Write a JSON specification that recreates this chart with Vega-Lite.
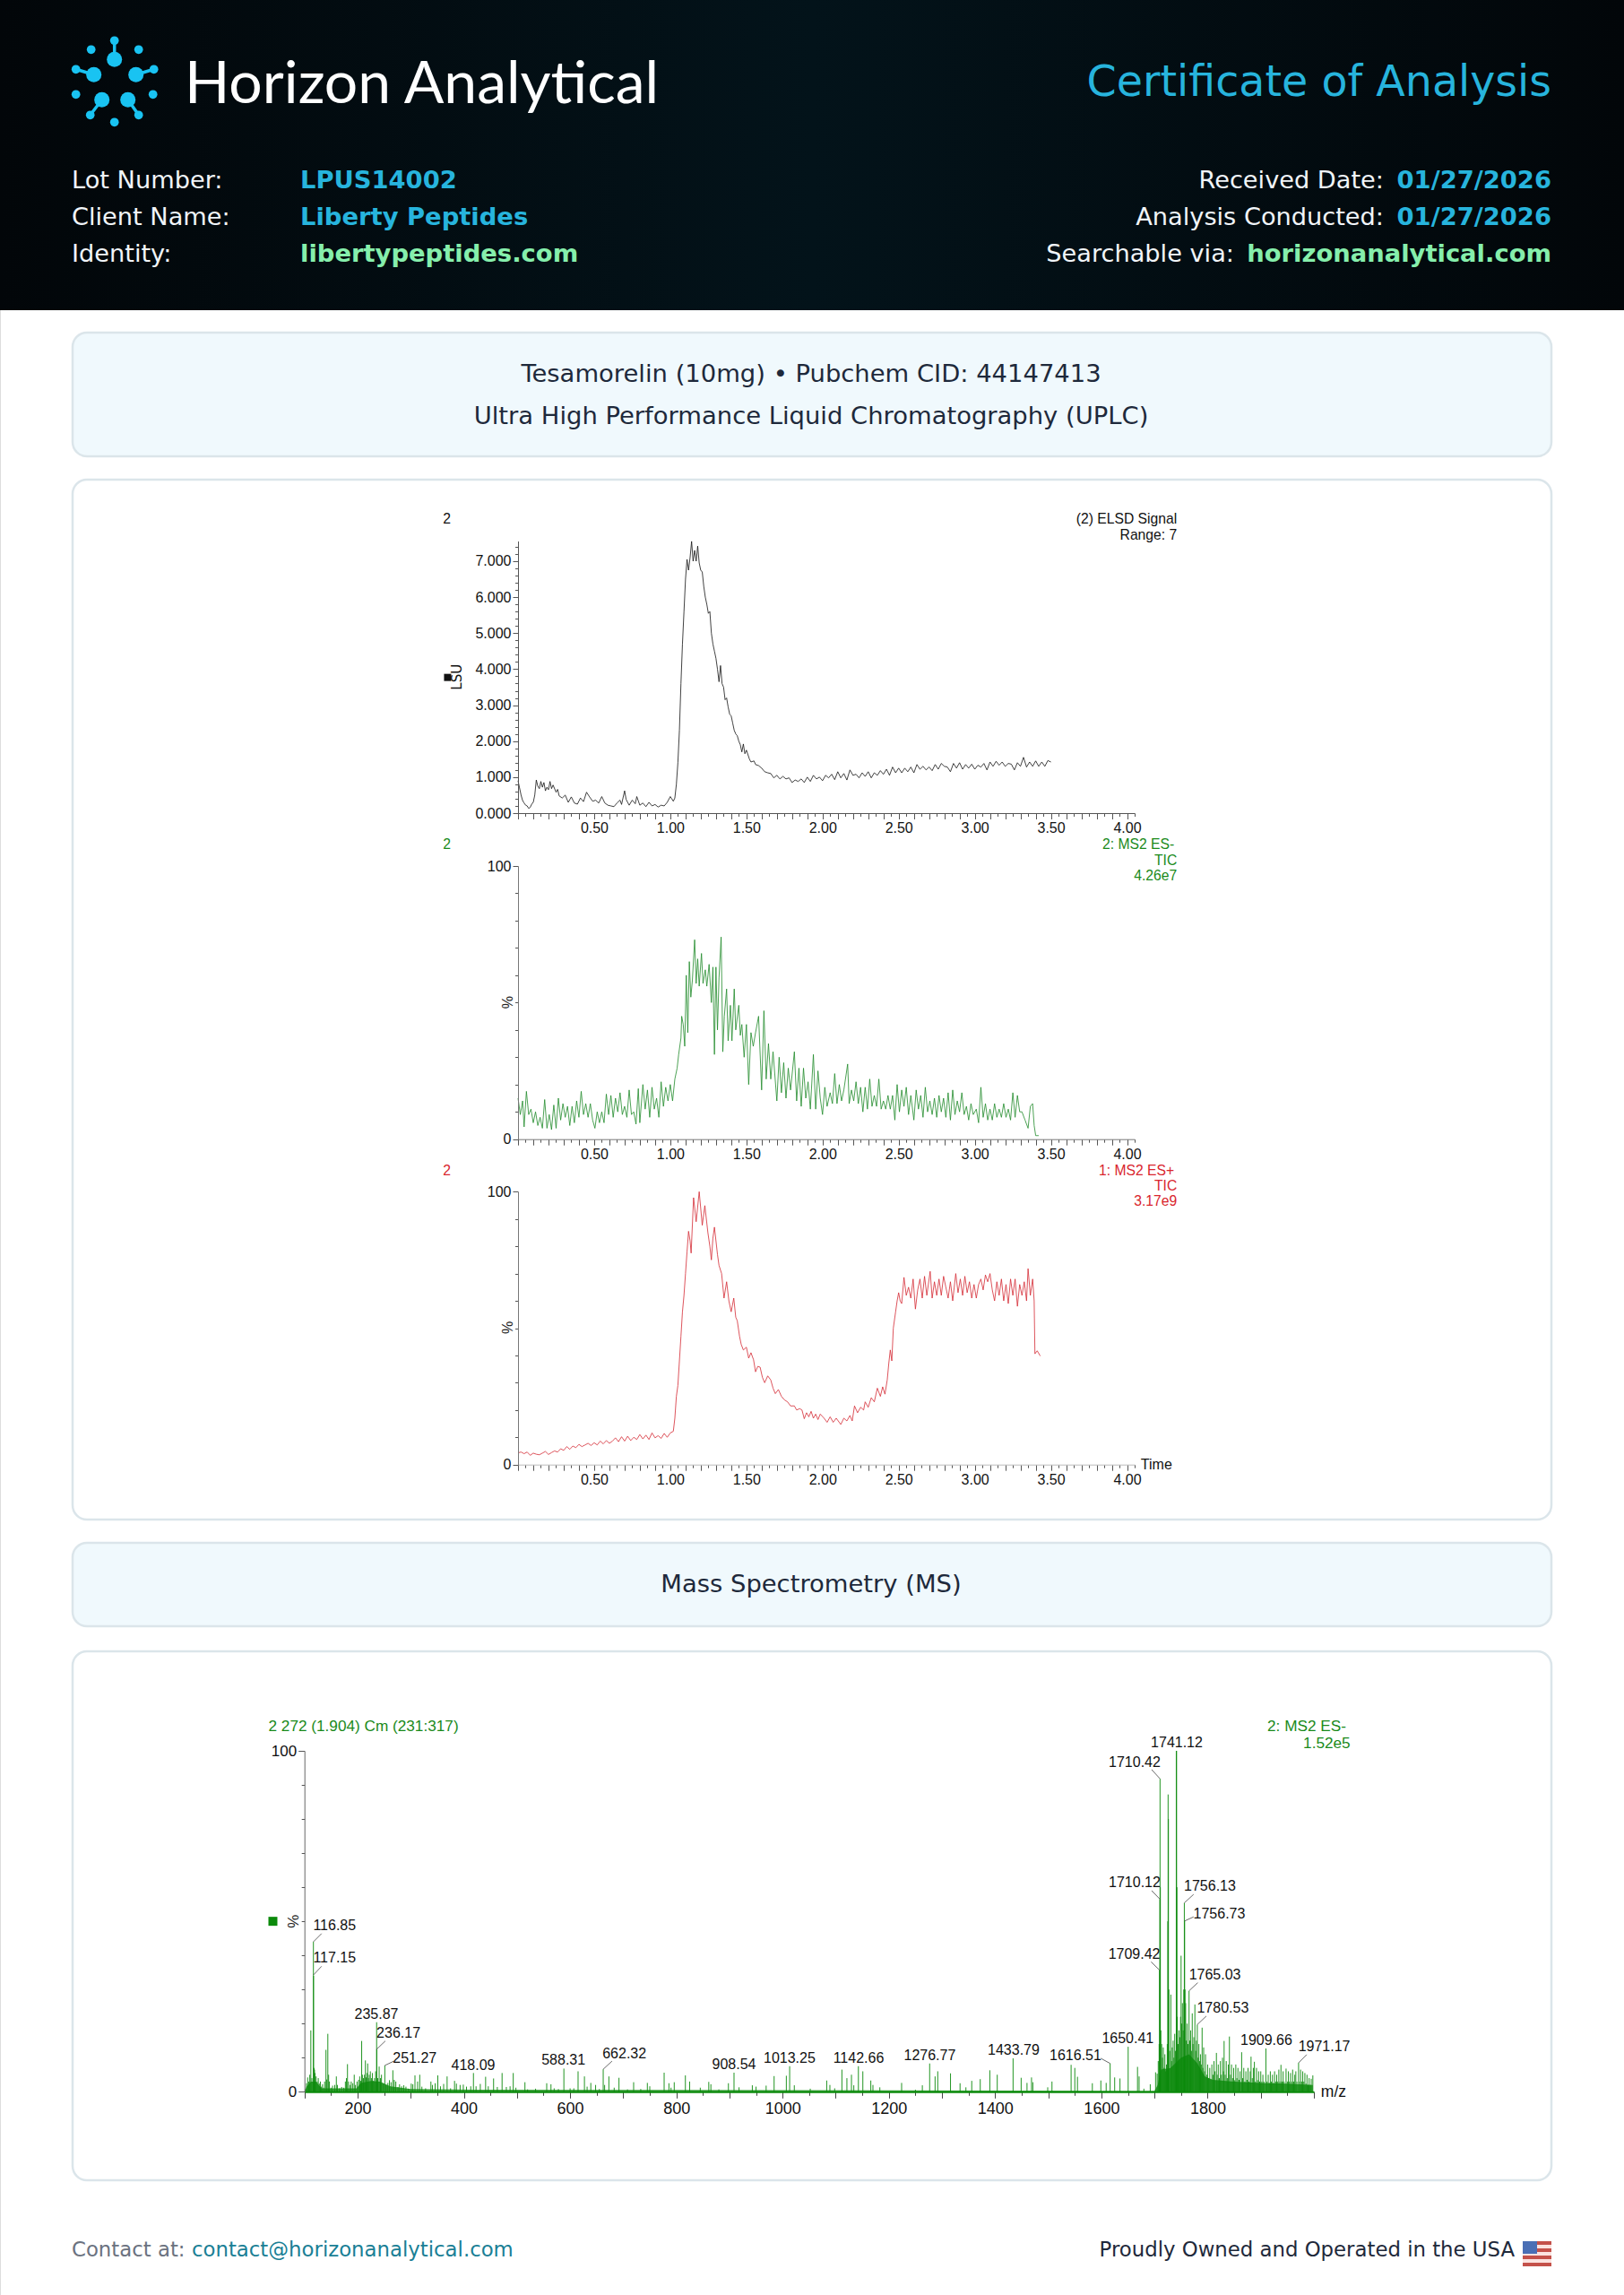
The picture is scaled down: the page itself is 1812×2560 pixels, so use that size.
{"$schema":"https://vega.github.io/schema/vega-lite/v6.json","width":1812,"height":2560,"padding":0,"autosize":{"type":"none"},"background":"#ffffff",
"datasets":{
"elsd":[{"t":0,"v":0.9},{"t":0.01,"v":0.7},{"t":0.02,"v":0.5},{"t":0.03,"v":0.35},{"t":0.04,"v":0.28},{"t":0.05,"v":0.22},{"t":0.06,"v":0.2},{"t":0.07,"v":0.13},{"t":0.08,"v":0.16},{"t":0.09,"v":0.25},{"t":0.1,"v":0.3},{"t":0.11,"v":0.5},{"t":0.12,"v":0.92},{"t":0.13,"v":0.75},{"t":0.14,"v":0.68},{"t":0.15,"v":0.88},{"t":0.16,"v":0.72},{"t":0.17,"v":0.85},{"t":0.18,"v":0.62},{"t":0.19,"v":0.72},{"t":0.2,"v":0.65},{"t":0.21,"v":0.88},{"t":0.22,"v":0.68},{"t":0.23,"v":0.78},{"t":0.25,"v":0.58},{"t":0.26,"v":0.66},{"t":0.27,"v":0.48},{"t":0.29,"v":0.42},{"t":0.31,"v":0.5},{"t":0.33,"v":0.3},{"t":0.35,"v":0.45},{"t":0.37,"v":0.28},{"t":0.39,"v":0.25},{"t":0.41,"v":0.42},{"t":0.43,"v":0.32},{"t":0.45,"v":0.58},{"t":0.47,"v":0.45},{"t":0.49,"v":0.33},{"t":0.51,"v":0.36},{"t":0.53,"v":0.28},{"t":0.55,"v":0.46},{"t":0.57,"v":0.28},{"t":0.59,"v":0.22},{"t":0.61,"v":0.2},{"t":0.63,"v":0.18},{"t":0.65,"v":0.28},{"t":0.67,"v":0.36},{"t":0.68,"v":0.24},{"t":0.7,"v":0.62},{"t":0.71,"v":0.38},{"t":0.73,"v":0.22},{"t":0.75,"v":0.36},{"t":0.77,"v":0.26},{"t":0.78,"v":0.46},{"t":0.8,"v":0.22},{"t":0.82,"v":0.28},{"t":0.84,"v":0.18},{"t":0.86,"v":0.3},{"t":0.88,"v":0.2},{"t":0.9,"v":0.24},{"t":0.92,"v":0.17},{"t":0.94,"v":0.22},{"t":0.96,"v":0.2},{"t":0.98,"v":0.3},{"t":1,"v":0.46},{"t":1.02,"v":0.33},{"t":1.03,"v":0.42},{"t":1.04,"v":0.8},{"t":1.05,"v":1.4},{"t":1.06,"v":2.3},{"t":1.07,"v":3.6},{"t":1.08,"v":4.7},{"t":1.09,"v":5.6},{"t":1.1,"v":6.5},{"t":1.11,"v":7.05},{"t":1.12,"v":6.75},{"t":1.13,"v":7.1},{"t":1.14,"v":7.55},{"t":1.15,"v":7.0},{"t":1.16,"v":7.3},{"t":1.17,"v":7.0},{"t":1.18,"v":7.42},{"t":1.19,"v":6.95},{"t":1.2,"v":6.75},{"t":1.21,"v":6.7},{"t":1.22,"v":6.3},{"t":1.23,"v":6.0},{"t":1.24,"v":5.8},{"t":1.25,"v":5.55},{"t":1.26,"v":5.6},{"t":1.27,"v":5.0},{"t":1.28,"v":4.7},{"t":1.29,"v":4.5},{"t":1.3,"v":4.3},{"t":1.31,"v":4.0},{"t":1.32,"v":3.65},{"t":1.33,"v":4.1},{"t":1.34,"v":3.6},{"t":1.35,"v":3.5},{"t":1.36,"v":3.15},{"t":1.37,"v":3.2},{"t":1.38,"v":2.95},{"t":1.39,"v":2.75},{"t":1.4,"v":2.7},{"t":1.41,"v":2.5},{"t":1.42,"v":2.3},{"t":1.43,"v":2.2},{"t":1.44,"v":2.15},{"t":1.45,"v":2.0},{"t":1.46,"v":1.9},{"t":1.47,"v":1.7},{"t":1.48,"v":1.92},{"t":1.49,"v":1.65},{"t":1.5,"v":1.75},{"t":1.52,"v":1.5},{"t":1.53,"v":1.42},{"t":1.55,"v":1.45},{"t":1.56,"v":1.35},{"t":1.58,"v":1.32},{"t":1.6,"v":1.25},{"t":1.62,"v":1.15},{"t":1.64,"v":1.12},{"t":1.66,"v":1.1},{"t":1.68,"v":0.98},{"t":1.7,"v":1.05},{"t":1.72,"v":0.95},{"t":1.74,"v":1.02},{"t":1.76,"v":0.95},{"t":1.78,"v":0.98},{"t":1.8,"v":0.85},{"t":1.82,"v":0.92},{"t":1.84,"v":0.88},{"t":1.86,"v":0.95},{"t":1.88,"v":0.85},{"t":1.9,"v":1.0},{"t":1.92,"v":0.88},{"t":1.94,"v":1.05},{"t":1.96,"v":0.95},{"t":1.98,"v":1.0},{"t":2,"v":0.9},{"t":2.02,"v":1.05},{"t":2.04,"v":0.98},{"t":2.06,"v":1.08},{"t":2.08,"v":0.93},{"t":2.1,"v":1.15},{"t":2.12,"v":0.98},{"t":2.14,"v":1.1},{"t":2.16,"v":0.92},{"t":2.18,"v":1.2},{"t":2.2,"v":1.05},{"t":2.22,"v":1.08},{"t":2.24,"v":0.98},{"t":2.26,"v":1.12},{"t":2.28,"v":1.02},{"t":2.3,"v":1.15},{"t":2.32,"v":0.98},{"t":2.34,"v":1.12},{"t":2.36,"v":1.05},{"t":2.38,"v":1.18},{"t":2.4,"v":1.08},{"t":2.42,"v":1.22},{"t":2.44,"v":1.05},{"t":2.46,"v":1.28},{"t":2.48,"v":1.12},{"t":2.5,"v":1.25},{"t":2.52,"v":1.12},{"t":2.54,"v":1.25},{"t":2.56,"v":1.15},{"t":2.58,"v":1.28},{"t":2.6,"v":1.12},{"t":2.62,"v":1.35},{"t":2.64,"v":1.22},{"t":2.66,"v":1.3},{"t":2.68,"v":1.2},{"t":2.7,"v":1.28},{"t":2.72,"v":1.18},{"t":2.74,"v":1.35},{"t":2.76,"v":1.22},{"t":2.78,"v":1.38},{"t":2.8,"v":1.3},{"t":2.82,"v":1.28},{"t":2.84,"v":1.15},{"t":2.86,"v":1.38},{"t":2.88,"v":1.25},{"t":2.9,"v":1.4},{"t":2.92,"v":1.22},{"t":2.94,"v":1.35},{"t":2.96,"v":1.25},{"t":2.98,"v":1.36},{"t":3,"v":1.22},{"t":3.02,"v":1.33},{"t":3.04,"v":1.28},{"t":3.06,"v":1.38},{"t":3.08,"v":1.2},{"t":3.1,"v":1.42},{"t":3.12,"v":1.3},{"t":3.14,"v":1.44},{"t":3.16,"v":1.33},{"t":3.18,"v":1.42},{"t":3.2,"v":1.3},{"t":3.22,"v":1.38},{"t":3.24,"v":1.36},{"t":3.26,"v":1.2},{"t":3.28,"v":1.4},{"t":3.3,"v":1.3},{"t":3.32,"v":1.55},{"t":3.34,"v":1.28},{"t":3.36,"v":1.42},{"t":3.38,"v":1.3},{"t":3.4,"v":1.45},{"t":3.42,"v":1.3},{"t":3.44,"v":1.42},{"t":3.46,"v":1.3},{"t":3.48,"v":1.46},{"t":3.5,"v":1.42}],
"neg":[{"t":0,"v":15},{"t":0.015,"v":9},{"t":0.03,"v":14},{"t":0.04,"v":4.5},{"t":0.055,"v":17.5},{"t":0.07,"v":9},{"t":0.085,"v":11},{"t":0.1,"v":6},{"t":0.115,"v":10},{"t":0.13,"v":5},{"t":0.145,"v":8},{"t":0.16,"v":4},{"t":0.175,"v":14.5},{"t":0.19,"v":4},{"t":0.205,"v":9},{"t":0.22,"v":3.5},{"t":0.235,"v":12.5},{"t":0.25,"v":4},{"t":0.265,"v":15},{"t":0.28,"v":7},{"t":0.295,"v":13},{"t":0.31,"v":8},{"t":0.325,"v":12},{"t":0.34,"v":5},{"t":0.355,"v":12},{"t":0.37,"v":6},{"t":0.385,"v":14},{"t":0.4,"v":8},{"t":0.415,"v":17.5},{"t":0.43,"v":9},{"t":0.445,"v":13},{"t":0.46,"v":8},{"t":0.475,"v":13},{"t":0.49,"v":7},{"t":0.505,"v":4},{"t":0.52,"v":10},{"t":0.535,"v":6},{"t":0.55,"v":10},{"t":0.565,"v":6},{"t":0.58,"v":16.5},{"t":0.595,"v":9},{"t":0.61,"v":16},{"t":0.625,"v":8},{"t":0.64,"v":15},{"t":0.655,"v":10},{"t":0.67,"v":17},{"t":0.685,"v":9},{"t":0.7,"v":12},{"t":0.715,"v":8},{"t":0.73,"v":18},{"t":0.745,"v":9},{"t":0.76,"v":10},{"t":0.775,"v":5.5},{"t":0.79,"v":18.5},{"t":0.8,"v":6},{"t":0.82,"v":20},{"t":0.835,"v":11},{"t":0.85,"v":18},{"t":0.865,"v":8},{"t":0.88,"v":19},{"t":0.895,"v":11},{"t":0.91,"v":15},{"t":0.925,"v":8},{"t":0.94,"v":21},{"t":0.955,"v":12},{"t":0.97,"v":19},{"t":0.985,"v":14},{"t":1,"v":20},{"t":1.015,"v":14},{"t":1.03,"v":22},{"t":1.045,"v":26},{"t":1.055,"v":31},{"t":1.07,"v":37},{"t":1.075,"v":45},{"t":1.085,"v":42},{"t":1.095,"v":34},{"t":1.105,"v":60},{"t":1.115,"v":39},{"t":1.125,"v":65},{"t":1.135,"v":52},{"t":1.145,"v":58},{"t":1.16,"v":73},{"t":1.17,"v":57},{"t":1.18,"v":66},{"t":1.19,"v":56},{"t":1.205,"v":68},{"t":1.215,"v":57},{"t":1.23,"v":62},{"t":1.24,"v":56},{"t":1.255,"v":64},{"t":1.27,"v":50},{"t":1.28,"v":63},{"t":1.29,"v":31},{"t":1.3,"v":63},{"t":1.31,"v":40},{"t":1.32,"v":59},{"t":1.334,"v":74},{"t":1.345,"v":32},{"t":1.355,"v":45},{"t":1.37,"v":55},{"t":1.38,"v":36},{"t":1.395,"v":49},{"t":1.405,"v":36},{"t":1.42,"v":55},{"t":1.43,"v":40},{"t":1.45,"v":49},{"t":1.46,"v":38},{"t":1.47,"v":42},{"t":1.485,"v":30},{"t":1.5,"v":42},{"t":1.515,"v":20},{"t":1.53,"v":39},{"t":1.545,"v":34},{"t":1.56,"v":39},{"t":1.58,"v":45},{"t":1.6,"v":18},{"t":1.615,"v":47},{"t":1.63,"v":22},{"t":1.645,"v":35},{"t":1.66,"v":22},{"t":1.675,"v":32},{"t":1.7,"v":14},{"t":1.715,"v":30},{"t":1.73,"v":17},{"t":1.745,"v":28},{"t":1.76,"v":15},{"t":1.775,"v":26},{"t":1.79,"v":18},{"t":1.815,"v":32},{"t":1.83,"v":14},{"t":1.845,"v":26},{"t":1.86,"v":12},{"t":1.875,"v":26},{"t":1.89,"v":15},{"t":1.905,"v":21},{"t":1.92,"v":11},{"t":1.94,"v":31},{"t":1.955,"v":11},{"t":1.97,"v":25},{"t":1.985,"v":15},{"t":2,"v":9},{"t":2.015,"v":19},{"t":2.03,"v":12},{"t":2.05,"v":17},{"t":2.065,"v":13},{"t":2.08,"v":24},{"t":2.095,"v":13},{"t":2.11,"v":20},{"t":2.125,"v":14},{"t":2.14,"v":18},{"t":2.165,"v":27.5},{"t":2.175,"v":13},{"t":2.19,"v":18},{"t":2.205,"v":14},{"t":2.22,"v":21},{"t":2.235,"v":13},{"t":2.25,"v":19},{"t":2.265,"v":10},{"t":2.28,"v":19},{"t":2.295,"v":11},{"t":2.31,"v":22},{"t":2.325,"v":12},{"t":2.34,"v":16},{"t":2.355,"v":12},{"t":2.37,"v":22},{"t":2.385,"v":11},{"t":2.4,"v":14},{"t":2.415,"v":11},{"t":2.43,"v":16},{"t":2.445,"v":11},{"t":2.46,"v":16},{"t":2.475,"v":7},{"t":2.49,"v":20},{"t":2.505,"v":10},{"t":2.52,"v":18},{"t":2.535,"v":12},{"t":2.55,"v":19},{"t":2.565,"v":9},{"t":2.58,"v":16},{"t":2.6,"v":7},{"t":2.615,"v":18},{"t":2.63,"v":11},{"t":2.645,"v":16},{"t":2.66,"v":8},{"t":2.675,"v":19},{"t":2.69,"v":10},{"t":2.705,"v":14},{"t":2.72,"v":9},{"t":2.735,"v":15},{"t":2.75,"v":8},{"t":2.765,"v":16},{"t":2.78,"v":10},{"t":2.795,"v":15},{"t":2.81,"v":8},{"t":2.825,"v":17},{"t":2.84,"v":7},{"t":2.855,"v":18},{"t":2.87,"v":9},{"t":2.885,"v":14},{"t":2.9,"v":10},{"t":2.915,"v":17},{"t":2.93,"v":9},{"t":2.945,"v":12},{"t":2.96,"v":7},{"t":2.975,"v":13},{"t":2.99,"v":9},{"t":3.01,"v":11},{"t":3.025,"v":6},{"t":3.04,"v":19},{"t":3.055,"v":8},{"t":3.07,"v":13},{"t":3.085,"v":7},{"t":3.1,"v":11},{"t":3.115,"v":7},{"t":3.13,"v":13},{"t":3.145,"v":8},{"t":3.16,"v":11},{"t":3.175,"v":8},{"t":3.19,"v":13},{"t":3.205,"v":8},{"t":3.22,"v":11},{"t":3.235,"v":7},{"t":3.25,"v":17},{"t":3.265,"v":8},{"t":3.28,"v":16},{"t":3.295,"v":10},{"t":3.31,"v":10},{"t":3.33,"v":7},{"t":3.35,"v":4},{"t":3.365,"v":12},{"t":3.38,"v":13},{"t":3.39,"v":5},{"t":3.4,"v":1.3},{"t":3.42,"v":1.3}],
"pos":[{"t":0,"v":4.3},{"t":0.02,"v":4.6},{"t":0.04,"v":4},{"t":0.06,"v":4.6},{"t":0.08,"v":3.4},{"t":0.1,"v":4.2},{"t":0.12,"v":3.8},{"t":0.14,"v":3.6},{"t":0.16,"v":4.2},{"t":0.18,"v":4.8},{"t":0.2,"v":3.7},{"t":0.22,"v":4.4},{"t":0.24,"v":5},{"t":0.26,"v":4.6},{"t":0.28,"v":5.8},{"t":0.3,"v":5.2},{"t":0.32,"v":6.6},{"t":0.34,"v":5.6},{"t":0.36,"v":6.8},{"t":0.38,"v":6.2},{"t":0.4,"v":7.4},{"t":0.42,"v":6.6},{"t":0.44,"v":7.2},{"t":0.46,"v":7.8},{"t":0.48,"v":7},{"t":0.5,"v":8},{"t":0.52,"v":7.2},{"t":0.54,"v":8.6},{"t":0.56,"v":7.6},{"t":0.58,"v":8.8},{"t":0.6,"v":7.8},{"t":0.62,"v":8.6},{"t":0.64,"v":9.8},{"t":0.66,"v":8.4},{"t":0.68,"v":10.2},{"t":0.7,"v":8.6},{"t":0.72,"v":10.4},{"t":0.74,"v":8.8},{"t":0.76,"v":10},{"t":0.78,"v":9.2},{"t":0.8,"v":11},{"t":0.82,"v":9.4},{"t":0.84,"v":10.8},{"t":0.86,"v":9.2},{"t":0.88,"v":11.6},{"t":0.9,"v":9.8},{"t":0.92,"v":10.6},{"t":0.94,"v":9.6},{"t":0.96,"v":11.4},{"t":0.98,"v":10},{"t":1,"v":11.6},{"t":1.02,"v":12.2},{"t":1.03,"v":17},{"t":1.04,"v":25},{"t":1.05,"v":29},{"t":1.06,"v":38},{"t":1.07,"v":47},{"t":1.08,"v":56},{"t":1.09,"v":62},{"t":1.1,"v":70},{"t":1.11,"v":78},{"t":1.12,"v":85.5},{"t":1.13,"v":82},{"t":1.137,"v":77.5},{"t":1.153,"v":97.8},{"t":1.17,"v":89},{"t":1.19,"v":100},{"t":1.21,"v":87.7},{"t":1.227,"v":94.9},{"t":1.247,"v":85},{"t":1.26,"v":80},{"t":1.27,"v":75},{"t":1.28,"v":83},{"t":1.29,"v":87},{"t":1.31,"v":77},{"t":1.32,"v":73},{"t":1.337,"v":70},{"t":1.353,"v":61},{"t":1.37,"v":67},{"t":1.385,"v":60},{"t":1.4,"v":56},{"t":1.417,"v":61},{"t":1.43,"v":54},{"t":1.44,"v":52.7},{"t":1.455,"v":47},{"t":1.466,"v":44},{"t":1.48,"v":42},{"t":1.5,"v":43},{"t":1.515,"v":39},{"t":1.53,"v":41},{"t":1.547,"v":38.4},{"t":1.56,"v":34},{"t":1.575,"v":36},{"t":1.59,"v":35.7},{"t":1.605,"v":32},{"t":1.62,"v":30},{"t":1.64,"v":32.5},{"t":1.66,"v":31},{"t":1.675,"v":28},{"t":1.69,"v":26},{"t":1.71,"v":27.5},{"t":1.73,"v":25},{"t":1.75,"v":23.7},{"t":1.77,"v":23},{"t":1.79,"v":21.5},{"t":1.815,"v":21.5},{"t":1.83,"v":20},{"t":1.85,"v":20.5},{"t":1.865,"v":20},{"t":1.88,"v":16.8},{"t":1.895,"v":19},{"t":1.91,"v":17.5},{"t":1.925,"v":19.5},{"t":1.94,"v":17},{"t":1.955,"v":18.5},{"t":1.97,"v":16.5},{"t":1.985,"v":18.5},{"t":2.01,"v":17},{"t":2.03,"v":15.5},{"t":2.05,"v":17.5},{"t":2.07,"v":15.5},{"t":2.09,"v":17},{"t":2.12,"v":14.7},{"t":2.14,"v":17},{"t":2.16,"v":16},{"t":2.18,"v":18},{"t":2.195,"v":16},{"t":2.21,"v":21.5},{"t":2.23,"v":19},{"t":2.25,"v":21},{"t":2.27,"v":20},{"t":2.28,"v":23},{"t":2.3,"v":21},{"t":2.32,"v":24.5},{"t":2.34,"v":23},{"t":2.36,"v":28},{"t":2.38,"v":25},{"t":2.395,"v":28.5},{"t":2.41,"v":25.8},{"t":2.425,"v":31},{"t":2.435,"v":37},{"t":2.445,"v":42},{"t":2.455,"v":38},{"t":2.465,"v":50},{"t":2.48,"v":56},{"t":2.49,"v":60},{"t":2.5,"v":63},{"t":2.51,"v":60},{"t":2.52,"v":59},{"t":2.535,"v":68.6},{"t":2.55,"v":62},{"t":2.565,"v":65},{"t":2.58,"v":61},{"t":2.595,"v":68},{"t":2.61,"v":57},{"t":2.625,"v":64},{"t":2.64,"v":68},{"t":2.655,"v":61},{"t":2.67,"v":69},{"t":2.685,"v":62},{"t":2.707,"v":70.8},{"t":2.72,"v":61},{"t":2.735,"v":67},{"t":2.75,"v":62},{"t":2.765,"v":68},{"t":2.78,"v":62},{"t":2.795,"v":69},{"t":2.81,"v":65},{"t":2.825,"v":61},{"t":2.84,"v":67},{"t":2.855,"v":60},{"t":2.875,"v":70},{"t":2.89,"v":63},{"t":2.905,"v":68},{"t":2.92,"v":62},{"t":2.935,"v":69},{"t":2.95,"v":63},{"t":2.965,"v":67},{"t":2.98,"v":61},{"t":2.995,"v":66},{"t":3.01,"v":61},{"t":3.025,"v":66},{"t":3.04,"v":68},{"t":3.055,"v":64},{"t":3.07,"v":69.5},{"t":3.085,"v":67},{"t":3.1,"v":70},{"t":3.115,"v":64},{"t":3.13,"v":60},{"t":3.145,"v":67},{"t":3.16,"v":62},{"t":3.175,"v":68},{"t":3.19,"v":60},{"t":3.205,"v":66},{"t":3.22,"v":59},{"t":3.235,"v":68},{"t":3.25,"v":62},{"t":3.265,"v":68},{"t":3.28,"v":58},{"t":3.295,"v":66},{"t":3.31,"v":62},{"t":3.325,"v":67},{"t":3.34,"v":60},{"t":3.35,"v":71.8},{"t":3.365,"v":62},{"t":3.38,"v":68},{"t":3.39,"v":60},{"t":3.395,"v":40.6},{"t":3.41,"v":41.7},{"t":3.43,"v":39.8}],
"peakBase":[{"m":100,"p":0},{"m":104,"p":1.5},{"m":112,"p":3},{"m":122,"p":3},{"m":132,"p":1},{"m":198,"p":1},{"m":206,"p":2.6},{"m":225,"p":3.2},{"m":242,"p":3},{"m":262,"p":1.6},{"m":300,"p":0.8},{"m":420,"p":0.6},{"m":1700,"p":0.3},{"m":1706,"p":2},{"m":1712,"p":6.5},{"m":1730,"p":7},{"m":1750,"p":10},{"m":1765,"p":11},{"m":1780,"p":8.5},{"m":1795,"p":4.5},{"m":1810,"p":3.5},{"m":1850,"p":3},{"m":1900,"p":2.6},{"m":1950,"p":2.4},{"m":1998,"p":2}],
"peaks":[{"m":102,"p":0.8},{"m":104,"p":2.5},{"m":106,"p":4.2},{"m":108,"p":3},{"m":110,"p":5},{"m":112,"p":18},{"m":114,"p":4},{"m":116.85,"p":44},{"m":117.15,"p":34},{"m":118,"p":7},{"m":119,"p":6.5},{"m":120,"p":5.5},{"m":122,"p":4.5},{"m":124,"p":3},{"m":126,"p":4},{"m":128,"p":2.4},{"m":130,"p":3},{"m":132,"p":1.5},{"m":134,"p":2.2},{"m":136,"p":1.2},{"m":138,"p":3},{"m":140.5,"p":12.3},{"m":142,"p":3.6},{"m":144,"p":17},{"m":145.5,"p":5},{"m":147,"p":3},{"m":150,"p":1.2},{"m":153,"p":1.8},{"m":157,"p":2},{"m":160,"p":4.5},{"m":162,"p":2},{"m":166,"p":1},{"m":170,"p":1.4},{"m":174,"p":1.2},{"m":177,"p":3},{"m":179,"p":4},{"m":181,"p":8.1},{"m":183,"p":3},{"m":186,"p":2},{"m":188,"p":3},{"m":191,"p":2.5},{"m":193.7,"p":5},{"m":196,"p":2},{"m":199,"p":3},{"m":202,"p":3.5},{"m":204,"p":4.5},{"m":206,"p":3.2},{"m":207.7,"p":14.9},{"m":209,"p":5},{"m":211,"p":4},{"m":213,"p":5},{"m":214.7,"p":9.2},{"m":216,"p":4.2},{"m":217.5,"p":5.5},{"m":219,"p":8.3},{"m":220.5,"p":4},{"m":222,"p":5},{"m":224,"p":6},{"m":226,"p":4},{"m":228,"p":5.5},{"m":230,"p":3.2},{"m":232,"p":4},{"m":234,"p":6},{"m":235.87,"p":20.4},{"m":236.17,"p":12.4},{"m":238,"p":4},{"m":240.6,"p":7.4},{"m":243,"p":4},{"m":245,"p":5},{"m":248,"p":2.5},{"m":251.27,"p":7.7},{"m":254,"p":2},{"m":257,"p":2.6},{"m":260,"p":3.4},{"m":263,"p":2.8},{"m":266.4,"p":6.3},{"m":269,"p":3.5},{"m":272,"p":3},{"m":276,"p":1.4},{"m":279,"p":2.2},{"m":283,"p":1.6},{"m":287,"p":1.9},{"m":291,"p":1.5},{"m":296,"p":0.9},{"m":301,"p":2.4},{"m":304,"p":2.2},{"m":308,"p":4.8},{"m":313,"p":3},{"m":317,"p":5},{"m":321,"p":1.5},{"m":328,"p":1},{"m":338,"p":3},{"m":341,"p":2},{"m":346,"p":2.5},{"m":351,"p":4.8},{"m":356,"p":1.6},{"m":362,"p":2.3},{"m":368.5,"p":4.5},{"m":375,"p":1},{"m":382.5,"p":3.2},{"m":386,"p":2.4},{"m":393,"p":2},{"m":399,"p":2.1},{"m":405,"p":1.5},{"m":413,"p":1.6},{"m":418.09,"p":5.5},{"m":423,"p":1.6},{"m":431,"p":2.3},{"m":441,"p":4.4},{"m":446,"p":1.6},{"m":456,"p":3.9},{"m":463,"p":1.4},{"m":472,"p":5.5},{"m":480,"p":1.4},{"m":487,"p":1.6},{"m":493,"p":5.5},{"m":498,"p":1.2},{"m":515,"p":2.8},{"m":520,"p":0.7},{"m":535,"p":0.9},{"m":556,"p":2.5},{"m":564,"p":2.2},{"m":570,"p":1},{"m":578,"p":0.8},{"m":588.31,"p":6.8},{"m":600,"p":1},{"m":607,"p":1},{"m":615,"p":6},{"m":627,"p":4.5},{"m":632,"p":1.5},{"m":639,"p":2.6},{"m":648,"p":2},{"m":655,"p":0.8},{"m":662.32,"p":6.6},{"m":665,"p":2},{"m":673,"p":4.5},{"m":683,"p":1.2},{"m":692,"p":4.1},{"m":708,"p":0.7},{"m":719.6,"p":2.8},{"m":733,"p":0.8},{"m":745.4,"p":2.6},{"m":750,"p":1.6},{"m":777,"p":5.6},{"m":786,"p":2.5},{"m":790,"p":1.2},{"m":796,"p":2.8},{"m":817,"p":4.8},{"m":825,"p":3},{"m":845,"p":1.2},{"m":861,"p":2.9},{"m":865,"p":2.2},{"m":880,"p":0.7},{"m":898,"p":2.5},{"m":908.54,"p":5.6},{"m":918,"p":1.3},{"m":943,"p":1.9},{"m":950,"p":1.5},{"m":969,"p":1.8},{"m":984,"p":4.6},{"m":1007,"p":4.7},{"m":1013.25,"p":7.5},{"m":1022,"p":1.9},{"m":1052,"p":0.9},{"m":1083,"p":3.3},{"m":1089,"p":2},{"m":1098,"p":1},{"m":1111.6,"p":6.5},{"m":1121,"p":4},{"m":1129.6,"p":5},{"m":1134,"p":1.9},{"m":1142.66,"p":7.5},{"m":1151,"p":6},{"m":1166,"p":3.3},{"m":1170,"p":2},{"m":1183,"p":1.3},{"m":1224,"p":2.6},{"m":1250,"p":0.6},{"m":1263,"p":1.9},{"m":1276.77,"p":8.3},{"m":1287,"p":4.5},{"m":1292,"p":6},{"m":1316,"p":5.4},{"m":1334,"p":2.5},{"m":1345,"p":1.3},{"m":1356,"p":3.2},{"m":1372,"p":3.7},{"m":1390,"p":6.3},{"m":1404,"p":5},{"m":1433.79,"p":9.8},{"m":1449,"p":4.1},{"m":1460,"p":2.6},{"m":1468.5,"p":4.2},{"m":1471,"p":2.8},{"m":1499,"p":1.3},{"m":1507,"p":3},{"m":1543,"p":7.9},{"m":1550,"p":7},{"m":1555,"p":4.4},{"m":1583,"p":2.5},{"m":1599,"p":3.3},{"m":1609,"p":2.6},{"m":1616.51,"p":8.3},{"m":1625,"p":4.2},{"m":1635,"p":3.9},{"m":1650.41,"p":13.2},{"m":1668,"p":7.3},{"m":1671,"p":4.5},{"m":1680,"p":0.9},{"m":1692,"p":2.2},{"m":1702,"p":5.7},{"m":1705,"p":5.3},{"m":1707,"p":9},{"m":1708.7,"p":14},{"m":1709.42,"p":35.7},{"m":1710.12,"p":56.5},{"m":1710.42,"p":91.8},{"m":1711,"p":60},{"m":1712,"p":18},{"m":1713.5,"p":14},{"m":1715,"p":10},{"m":1716.5,"p":13},{"m":1718,"p":7},{"m":1719.5,"p":11},{"m":1721,"p":6},{"m":1722.5,"p":8},{"m":1724,"p":14},{"m":1725,"p":50},{"m":1725.6,"p":87.2},{"m":1726.2,"p":80},{"m":1727,"p":30},{"m":1728.5,"p":12},{"m":1730.7,"p":28.5},{"m":1732,"p":9},{"m":1733.5,"p":13},{"m":1735,"p":15},{"m":1736.5,"p":10},{"m":1738,"p":17},{"m":1739.5,"p":12},{"m":1741,"p":100},{"m":1741.6,"p":100},{"m":1742.2,"p":60},{"m":1743,"p":22},{"m":1744.5,"p":14},{"m":1746,"p":18},{"m":1747.5,"p":16},{"m":1749,"p":22},{"m":1750,"p":39.9},{"m":1751,"p":20},{"m":1752.5,"p":26},{"m":1754,"p":18},{"m":1755,"p":30},{"m":1756.13,"p":55.4},{"m":1756.73,"p":50.1},{"m":1757.5,"p":30},{"m":1758.6,"p":26},{"m":1760,"p":15},{"m":1761.5,"p":20},{"m":1763,"p":14},{"m":1765.03,"p":29.6},{"m":1766.5,"p":15},{"m":1768,"p":18},{"m":1769.5,"p":12},{"m":1771,"p":23},{"m":1772.5,"p":14},{"m":1774,"p":16},{"m":1776,"p":25.6},{"m":1777.5,"p":12},{"m":1779,"p":15},{"m":1780.53,"p":19.7},{"m":1782,"p":10},{"m":1783.5,"p":14},{"m":1785,"p":9},{"m":1786.5,"p":11},{"m":1788,"p":8},{"m":1789.6,"p":18.8},{"m":1791,"p":7},{"m":1792.5,"p":13},{"m":1794,"p":6},{"m":1796,"p":11},{"m":1798,"p":5},{"m":1800,"p":8},{"m":1802,"p":4},{"m":1804,"p":7},{"m":1806,"p":3.6},{"m":1808,"p":8},{"m":1810,"p":5},{"m":1812,"p":9},{"m":1814,"p":6},{"m":1816.5,"p":11.4},{"m":1818,"p":5},{"m":1820,"p":8},{"m":1822,"p":4},{"m":1824,"p":9},{"m":1826,"p":5},{"m":1828,"p":10},{"m":1830,"p":6},{"m":1831,"p":14.9},{"m":1833,"p":5},{"m":1835,"p":9},{"m":1837,"p":4},{"m":1839,"p":8},{"m":1841,"p":16.2},{"m":1843,"p":5},{"m":1845,"p":8},{"m":1847,"p":4},{"m":1849,"p":7},{"m":1851,"p":3.4},{"m":1853,"p":8},{"m":1855,"p":4},{"m":1857,"p":7},{"m":1859,"p":3.5},{"m":1861,"p":6},{"m":1864,"p":11.6},{"m":1866,"p":4},{"m":1868,"p":7},{"m":1870,"p":3},{"m":1872,"p":6},{"m":1874,"p":3.5},{"m":1876,"p":7},{"m":1878,"p":3},{"m":1880,"p":6},{"m":1881.7,"p":10.3},{"m":1884,"p":4},{"m":1886,"p":7},{"m":1888,"p":8.8},{"m":1890,"p":3},{"m":1892,"p":7},{"m":1894,"p":3.4},{"m":1896,"p":6},{"m":1898,"p":3},{"m":1900,"p":6},{"m":1902,"p":3},{"m":1904,"p":5},{"m":1906,"p":3},{"m":1909.66,"p":12.7},{"m":1912,"p":3},{"m":1914,"p":5},{"m":1916,"p":2.6},{"m":1918,"p":6},{"m":1920,"p":3},{"m":1922,"p":5},{"m":1924,"p":2.6},{"m":1926,"p":6},{"m":1928,"p":3},{"m":1930,"p":5},{"m":1932,"p":3},{"m":1934,"p":6.5},{"m":1936,"p":3},{"m":1938,"p":7.9},{"m":1940,"p":3},{"m":1942,"p":6},{"m":1944,"p":3},{"m":1947.6,"p":6.8},{"m":1950,"p":3},{"m":1952,"p":6},{"m":1954,"p":3},{"m":1956,"p":5.5},{"m":1958,"p":3},{"m":1960,"p":6.5},{"m":1962,"p":3},{"m":1964,"p":5},{"m":1966,"p":6},{"m":1968,"p":3},{"m":1971.17,"p":8.5},{"m":1973,"p":3},{"m":1975,"p":6.5},{"m":1977,"p":3},{"m":1979,"p":6},{"m":1981,"p":3},{"m":1983,"p":5.5},{"m":1985,"p":2.4},{"m":1987,"p":5},{"m":1989,"p":2},{"m":1991,"p":4},{"m":1993,"p":2},{"m":1995,"p":3.8},{"m":1998,"p":4.8}],
"peakLabels":[{"label":"116.85","m":156.6,"p":48.8},{"label":"117.15","m":156.6,"p":39.2},{"label":"235.87","m":235.4,"p":22.8},{"label":"236.17","m":276.9,"p":17.2},{"label":"251.27","m":307.6,"p":9.9},{"label":"418.09","m":417.6,"p":7.8},{"label":"588.31","m":587.5,"p":9.3},{"label":"662.32","m":702.2,"p":11.2},{"label":"908.54","m":908.5,"p":8},{"label":"1013.25","m":1013,"p":9.8},{"label":"1142.66","m":1143,"p":9.9},{"label":"1276.77","m":1277,"p":10.7},{"label":"1433.79","m":1434.8,"p":12.3},{"label":"1616.51","m":1551.2,"p":10.6},{"label":"1650.41","m":1649.7,"p":15.5},{"label":"1709.42","m":1661.9,"p":40.3},{"label":"1710.12","m":1662.6,"p":61.3},{"label":"1710.42","m":1662.6,"p":96.5},{"label":"1741.12","m":1741.9,"p":102.3},{"label":"1756.13","m":1804.3,"p":60.3},{"label":"1756.73","m":1822,"p":52.2},{"label":"1765.03","m":1813.7,"p":34.3},{"label":"1780.53","m":1828.6,"p":24.5},{"label":"1909.66","m":1910.5,"p":15.1},{"label":"1971.17","m":2019.5,"p":13.2}],
"leaders":[{"m":116.85,"p":44,"m2":132.2,"p2":46.4},{"m":117.15,"p":34.3,"m2":132.2,"p2":36.8},{"m":235.4,"p":12.4,"m2":252.3,"p2":14.9},{"m":251,"p":7.7,"m2":268.5,"p2":9},{"m":662.32,"p":6.6,"m2":679,"p2":9},{"m":1616.6,"p":8.3,"m2":1599,"p2":9.8},{"m":1709.42,"p":35.7,"m2":1693.6,"p2":38.1},{"m":1710.12,"p":56.5,"m2":1694.6,"p2":59},{"m":1710.42,"p":91.8,"m2":1694.6,"p2":94.5},{"m":1756.13,"p":55.4,"m2":1773.6,"p2":57.9},{"m":1756.73,"p":50.1,"m2":1773.6,"p2":51.3},{"m":1765.03,"p":29.6,"m2":1781.4,"p2":32},{"m":1780.53,"p":19.7,"m2":1797.5,"p2":22.2},{"m":1971.17,"p":8.5,"m2":1986.4,"p2":10.9}]
},
"resolve":{"scale":{"x":"independent","y":"independent","color":"independent","size":"independent"},"axis":{"x":"independent","y":"independent"}},
"layer":[
{"data":{"values":[{"p":"header"}]},"mark":{"type":"rect","color":{"gradient":"linear","stops":[{"offset":0,"color":"#020609"},{"offset":0.5,"color":"#03131a"},{"offset":1,"color":"#020609"}]}},"encoding":{"x":{"field":"p","type":"nominal","scale":{"type":"band","domain":["header"],"range":[0,1812],"paddingInner":0,"paddingOuter":0},"axis":null},"y":{"field":"p","type":"nominal","scale":{"type":"band","domain":["header"],"range":[0,346],"paddingInner":0,"paddingOuter":0},"axis":null}}},
{"data":{"values":[{"p":"identity"}]},"mark":{"type":"rect","fill":"#f0f9fd","stroke":"#dbe5ea","strokeWidth":2.5,"cornerRadius":16},"encoding":{"x":{"field":"p","type":"nominal","scale":{"type":"band","domain":["identity"],"range":[81,1731],"paddingInner":0,"paddingOuter":0},"axis":null},"y":{"field":"p","type":"nominal","scale":{"type":"band","domain":["identity"],"range":[371,509],"paddingInner":0,"paddingOuter":0},"axis":null}}},
{"data":{"values":[{"p":"uplc"}]},"mark":{"type":"rect","fill":"#ffffff","stroke":"#dbe5ea","strokeWidth":2.5,"cornerRadius":16},"encoding":{"x":{"field":"p","type":"nominal","scale":{"type":"band","domain":["uplc"],"range":[81,1731],"paddingInner":0,"paddingOuter":0},"axis":null},"y":{"field":"p","type":"nominal","scale":{"type":"band","domain":["uplc"],"range":[535,1695],"paddingInner":0,"paddingOuter":0},"axis":null}}},
{"data":{"values":[{"p":"ms"}]},"mark":{"type":"rect","fill":"#f0f9fd","stroke":"#dbe5ea","strokeWidth":2.5,"cornerRadius":16},"encoding":{"x":{"field":"p","type":"nominal","scale":{"type":"band","domain":["ms"],"range":[81,1731],"paddingInner":0,"paddingOuter":0},"axis":null},"y":{"field":"p","type":"nominal","scale":{"type":"band","domain":["ms"],"range":[1721,1814],"paddingInner":0,"paddingOuter":0},"axis":null}}},
{"data":{"values":[{"p":"spectrum"}]},"mark":{"type":"rect","fill":"#ffffff","stroke":"#dbe5ea","strokeWidth":2.5,"cornerRadius":16},"encoding":{"x":{"field":"p","type":"nominal","scale":{"type":"band","domain":["spectrum"],"range":[81,1731],"paddingInner":0,"paddingOuter":0},"axis":null},"y":{"field":"p","type":"nominal","scale":{"type":"band","domain":["spectrum"],"range":[1842,2432],"paddingInner":0,"paddingOuter":0},"axis":null}}},
{"encoding":{"x":{"field":"lx","type":"quantitative","scale":{"domain":[-50,50],"range":[77.7,177.7],"nice":false,"zero":false},"axis":null},"y":{"field":"ly","type":"quantitative","scale":{"domain":[-50,50],"range":[33.3,133.3],"nice":false,"zero":false},"axis":null}},
"layer":[
{"data":{"values":[{"lx":0,"ly":-38,"ex":0,"ey":-17},{"lx":-43,"ly":-6,"ex":-23,"ey":0},{"lx":44,"ly":-6,"ex":24,"ey":0},{"lx":-14,"ly":28,"ex":-27,"ey":45},{"lx":15,"ly":28,"ex":27,"ey":45}]},"mark":{"type":"rule","color":"#19c3f2","strokeWidth":3.5},"encoding":{"x2":{"field":"ex"},"y2":{"field":"ey"}}},
{"data":{"values":[{"lx":0,"ly":-17,"node":"hub"},{"lx":-23,"ly":0,"node":"hub"},{"lx":24,"ly":0,"node":"hub"},{"lx":-14,"ly":28,"node":"hub"},{"lx":15,"ly":28,"node":"hub"},{"lx":0,"ly":-38,"node":"leaf"},{"lx":-26,"ly":-28,"node":"leaf"},{"lx":27,"ly":-28,"node":"leaf"},{"lx":-43,"ly":-6,"node":"leaf"},{"lx":44,"ly":-6,"node":"leaf"},{"lx":-43,"ly":22,"node":"leaf"},{"lx":43,"ly":22,"node":"leaf"},{"lx":-27,"ly":45,"node":"leaf"},{"lx":27,"ly":45,"node":"leaf"},{"lx":0,"ly":53,"node":"leaf"}]},"mark":{"type":"circle","opacity":1,"color":"#19c3f2"},"encoding":{"size":{"field":"node","type":"nominal","scale":{"domain":["hub","leaf"],"range":[290,95]},"legend":null}}}
]},
{"data":{"values":[{"text":"Horizon Analytical","c":"w","l":"w"}]},"mark":{"type":"text","font":"Lato","fontWeight":400,"fontSize":66,"align":"left","baseline":"alphabetic","color":"#ffffff"},"encoding":{"text":{"field":"text"},"x":{"field":"c","type":"nominal","scale":{"type":"point","padding":0,"domain":["w"],"range":[206,206]},"axis":null},"y":{"field":"l","type":"nominal","scale":{"type":"point","padding":0,"domain":["w"],"range":[115,115]},"axis":null}}},
{"data":{"values":[{"text":"Certificate of Analysis","c":"w","l":"w"}]},"mark":{"type":"text","font":"DejaVu Sans","fontSize":47.5,"align":"right","baseline":"middle","color":"#27b4dd"},"encoding":{"text":{"field":"text"},"x":{"field":"c","type":"nominal","scale":{"type":"point","padding":0,"domain":["w"],"range":[1731,1731]},"axis":null},"y":{"field":"l","type":"nominal","scale":{"type":"point","padding":0,"domain":["w"],"range":[93,93]},"axis":null}}},
{"data":{"values":[{"text":"Lot Number:","c":"k","l":"lot"},{"text":"Client Name:","c":"k","l":"client"},{"text":"Identity:","c":"k","l":"identity"}]},"mark":{"type":"text","font":"DejaVu Sans","fontSize":27.2,"align":"left","baseline":"middle","color":"#f1f5f9"},"encoding":{"text":{"field":"text"},"x":{"field":"c","type":"nominal","scale":{"type":"point","padding":0,"domain":["k"],"range":[80,80]},"axis":null},"y":{"field":"l","type":"nominal","scale":{"type":"point","padding":0,"domain":["lot","client","identity"],"range":[202,284]},"axis":null}}},
{"data":{"values":[{"text":"LPUS14002","c":"v","l":"lot","tone":"blue"},{"text":"Liberty Peptides","c":"v","l":"client","tone":"blue"},{"text":"libertypeptides.com","c":"v","l":"identity","tone":"green"}]},"mark":{"type":"text","font":"DejaVu Sans","fontWeight":"bold","fontSize":27.4,"align":"left","baseline":"middle"},"encoding":{"text":{"field":"text"},"color":{"field":"tone","type":"nominal","scale":{"domain":["blue","green"],"range":["#27b4dd","#86efac"]},"legend":null},"x":{"field":"c","type":"nominal","scale":{"type":"point","padding":0,"domain":["v"],"range":[335,335]},"axis":null},"y":{"field":"l","type":"nominal","scale":{"type":"point","padding":0,"domain":["lot","client","identity"],"range":[202,284]},"axis":null}}},
{"data":{"values":[{"text":"Received Date:","c":"dates","l":"lot"},{"text":"Analysis Conducted:","c":"dates","l":"client"},{"text":"Searchable via:","c":"site","l":"identity"}]},"mark":{"type":"text","font":"DejaVu Sans","fontSize":27.2,"align":"right","baseline":"middle","color":"#f1f5f9"},"encoding":{"text":{"field":"text"},"x":{"field":"c","type":"nominal","scale":{"type":"point","padding":0,"domain":["dates","site"],"range":[1544,1377]},"axis":null},"y":{"field":"l","type":"nominal","scale":{"type":"point","padding":0,"domain":["lot","client","identity"],"range":[202,284]},"axis":null}}},
{"data":{"values":[{"text":"01/27/2026","c":"v","l":"lot","tone":"blue"},{"text":"01/27/2026","c":"v","l":"client","tone":"blue"},{"text":"horizonanalytical.com","c":"v","l":"identity","tone":"green"}]},"mark":{"type":"text","font":"DejaVu Sans","fontWeight":"bold","fontSize":27.4,"align":"right","baseline":"middle"},"encoding":{"text":{"field":"text"},"color":{"field":"tone","type":"nominal","scale":{"domain":["blue","green"],"range":["#27b4dd","#86efac"]},"legend":null},"x":{"field":"c","type":"nominal","scale":{"type":"point","padding":0,"domain":["v"],"range":[1731,1731]},"axis":null},"y":{"field":"l","type":"nominal","scale":{"type":"point","padding":0,"domain":["lot","client","identity"],"range":[202,284]},"axis":null}}},
{"data":{"values":[{"text":"Tesamorelin (10mg) • Pubchem CID: 44147413","c":"m","l":"a"},{"text":"Ultra High Performance Liquid Chromatography (UPLC)","c":"m","l":"b"}]},"mark":{"type":"text","font":"DejaVu Sans","fontSize":27.4,"align":"center","baseline":"middle","color":"#1e293b"},"encoding":{"text":{"field":"text"},"x":{"field":"c","type":"nominal","scale":{"type":"point","padding":0,"domain":["m"],"range":[905,905]},"axis":null},"y":{"field":"l","type":"nominal","scale":{"type":"point","padding":0,"domain":["a","b"],"range":[417.5,464.5]},"axis":null}}},
{"data":{"values":[{"text":"Mass Spectrometry (MS)","c":"m","l":"a"}]},"mark":{"type":"text","font":"DejaVu Sans","fontSize":27.4,"align":"center","baseline":"middle","color":"#1e293b"},"encoding":{"text":{"field":"text"},"x":{"field":"c","type":"nominal","scale":{"type":"point","padding":0,"domain":["m"],"range":[905,905]},"axis":null},"y":{"field":"l","type":"nominal","scale":{"type":"point","padding":0,"domain":["a"],"range":[1768,1768]},"axis":null}}},
{"data":{"values":[{"text":"Contact at:","c":"label"},{"text":"contact@horizonanalytical.com","c":"mail"}]},"mark":{"type":"text","font":"DejaVu Sans","fontSize":22.8,"align":"left","baseline":"middle"},"encoding":{"text":{"field":"text"},"color":{"field":"c","type":"nominal","scale":{"domain":["label","mail"],"range":["#6b7280","#1a7f96"]},"legend":null},"x":{"field":"c","type":"nominal","scale":{"type":"point","padding":0,"domain":["label","mail"],"range":[80,214]},"axis":null},"y":{"field":"c","type":"nominal","scale":{"type":"point","padding":0,"domain":["label","mail"],"range":[2510,2510]},"axis":null}}},
{"data":{"values":[{"text":"Proudly Owned and Operated in the USA","c":"r"}]},"mark":{"type":"text","font":"DejaVu Sans","fontSize":22.8,"align":"right","baseline":"middle","color":"#1e293b"},"encoding":{"text":{"field":"text"},"x":{"field":"c","type":"nominal","scale":{"type":"point","padding":0,"domain":["r"],"range":[1690,1690]},"axis":null},"y":{"field":"c","type":"nominal","scale":{"type":"point","padding":0,"domain":["r"],"range":[2510,2510]},"axis":null}}},
{"data":{"values":[{"s":"1","f":"r","c":"flag"},{"s":"2","f":"w","c":"flag"},{"s":"3","f":"r","c":"flag"},{"s":"4","f":"w","c":"flag"},{"s":"5","f":"r","c":"flag"},{"s":"6","f":"w","c":"flag"},{"s":"7","f":"r","c":"flag"}]},"mark":{"type":"rect"},"encoding":{"color":{"field":"f","type":"nominal","scale":{"domain":["r","w"],"range":["#c4514a","#fbe3e0"]},"legend":null},"x":{"field":"c","type":"nominal","scale":{"type":"band","domain":["flag"],"range":[1699,1731],"paddingInner":0,"paddingOuter":0},"axis":null},"y":{"field":"s","type":"nominal","scale":{"type":"band","domain":["1","2","3","4","5","6","7"],"range":[2500,2528],"paddingInner":0,"paddingOuter":0},"axis":null}}},
{"data":{"values":[{"c":"canton"}]},"mark":{"type":"rect","color":"#4a6fb5"},"encoding":{"x":{"field":"c","type":"nominal","scale":{"type":"band","domain":["canton"],"range":[1699,1715],"paddingInner":0,"paddingOuter":0},"axis":null},"y":{"field":"c","type":"nominal","scale":{"type":"band","domain":["canton"],"range":[2500,2514],"paddingInner":0,"paddingOuter":0},"axis":null}}},
{"encoding":{"x":{"field":"t","type":"quantitative","scale":{"domain":[0,4.05],"range":[578,1266],"nice":false,"zero":false},"axis":{"title":null,"orient":"bottom","offset":-1653,"zindex":1,"tickCount":81,"tickColor":"#555","tickWidth":1,"domainColor":"#555","labelFont":"Liberation Sans","labelFontSize":16,"labelColor":"#111","labelPadding":2,"labelOverlap":false,"labelExpr":"abs(datum.value*2-round(datum.value*2))<0.001 && datum.value>0 ? format(datum.value,'.2f') : ''","tickSize":{"condition":{"test":"abs(datum.value*10-round(datum.value*10))<0.001","value":6.5},"value":3.5}}},"y":{"field":"v","type":"quantitative","scale":{"domain":[0,7.56],"range":[907,603.5],"nice":false,"zero":false},"axis":{"title":null,"orient":"left","offset":-578,"zindex":1,"tickCount":38,"tickColor":"#555","domainColor":"#555","labelFont":"Liberation Sans","labelFontSize":16,"labelColor":"#111","labelPadding":2,"labelOverlap":false,"labelExpr":"abs(datum.value-round(datum.value))<0.001 ? format(datum.value,'.3f') : ''","tickSize":{"condition":{"test":"abs(datum.value-round(datum.value))<0.001","value":6},"value":3.5}}}},
"layer":[
{"data":{"name":"elsd"},"mark":{"type":"line","color":"#111111","strokeWidth":0.8}},
{"data":{"values":[{"label":"2","t":-0.442,"v":8.17},{"label":"(2) ELSD Signal","t":4.328,"v":8.17},{"label":"Range: 7","t":4.328,"v":7.73}]},"mark":{"type":"text","font":"Liberation Sans","fontSize":15.7,"align":"right","baseline":"middle","color":"#111111"},"encoding":{"text":{"field":"label"}}},
{"data":{"values":[{"label":"LSU","t":-0.4,"v":3.78}]},"mark":{"type":"text","font":"DejaVu Sans","fontSize":15,"angle":270,"align":"center","baseline":"middle","color":"#111111"},"encoding":{"text":{"field":"label"}}},
{"data":{"values":[{"t":-0.4625,"v":3.77}]},"mark":{"type":"point","shape":"square","filled":true,"size":64,"opacity":1,"color":"#111111"}}
]},
{"encoding":{"x":{"field":"t","type":"quantitative","scale":{"domain":[0,4.05],"range":[578,1266],"nice":false,"zero":false},"axis":{"title":null,"orient":"bottom","offset":-1289.3,"zindex":1,"tickCount":81,"tickColor":"#555","domainColor":"#777","labelFont":"Liberation Sans","labelFontSize":16,"labelColor":"#111","labelPadding":2,"labelOverlap":false,"labelExpr":"abs(datum.value*2-round(datum.value*2))<0.001 && datum.value>0 ? format(datum.value,'.2f') : ''","tickSize":{"condition":{"test":"abs(datum.value*10-round(datum.value*10))<0.001","value":6.5},"value":3.5}}},"y":{"field":"v","type":"quantitative","scale":{"domain":[0,100],"range":[1270.7,966],"nice":false,"zero":false},"axis":{"title":null,"orient":"left","offset":-578,"zindex":1,"tickCount":11,"tickColor":"#555","domainColor":"#777","labelFont":"Liberation Sans","labelFontSize":16,"labelColor":"#111","labelPadding":2,"labelOverlap":false,"labelExpr":"datum.value==0||datum.value==100 ? datum.value+'' : ''","tickSize":{"condition":{"test":"datum.value==0||datum.value==100","value":6},"value":3.5}}}},
"layer":[
{"data":{"name":"neg"},"mark":{"type":"line","color":"#1f8a2a","strokeWidth":0.8}},
{"data":{"values":[{"label":"2","t":-0.442,"v":107.9},{"label":"2: MS2 ES-","t":4.31,"v":107.9},{"label":"TIC","t":4.328,"v":102},{"label":"4.26e7","t":4.328,"v":96.4}]},"mark":{"type":"text","font":"Liberation Sans","fontSize":15.7,"align":"right","baseline":"middle","color":"#1a8a1a"},"encoding":{"text":{"field":"label"}}},
{"data":{"values":[{"label":"%","t":-0.062,"v":50.1}]},"mark":{"type":"text","font":"Liberation Sans","fontSize":16,"angle":270,"align":"center","baseline":"middle","color":"#222222"},"encoding":{"text":{"field":"label"}}}
]},
{"encoding":{"x":{"field":"t","type":"quantitative","scale":{"domain":[0,4.05],"range":[578,1266],"nice":false,"zero":false},"axis":{"title":null,"orient":"bottom","offset":-926.3,"zindex":1,"tickCount":81,"tickColor":"#555","domainColor":"#bbb","labelFont":"Liberation Sans","labelFontSize":16,"labelColor":"#111","labelPadding":2,"labelOverlap":false,"labelExpr":"abs(datum.value*2-round(datum.value*2))<0.001 && datum.value>0 ? format(datum.value,'.2f') : ''","tickSize":{"condition":{"test":"abs(datum.value*10-round(datum.value*10))<0.001","value":6.5},"value":3.5}}},"y":{"field":"v","type":"quantitative","scale":{"domain":[0,100],"range":[1633.7,1329.3],"nice":false,"zero":false},"axis":{"title":null,"orient":"left","offset":-578,"zindex":1,"tickCount":11,"tickColor":"#555","domainColor":"#777","labelFont":"Liberation Sans","labelFontSize":16,"labelColor":"#111","labelPadding":2,"labelOverlap":false,"labelExpr":"datum.value==0||datum.value==100 ? datum.value+'' : ''","tickSize":{"condition":{"test":"datum.value==0||datum.value==100","value":6},"value":3.5}}}},
"layer":[
{"data":{"name":"pos"},"mark":{"type":"line","color":"#d42a34","strokeWidth":0.8}},
{"data":{"values":[{"label":"2","t":-0.442,"v":107.8},{"label":"1: MS2 ES+","t":4.31,"v":107.8},{"label":"TIC","t":4.328,"v":102.2},{"label":"3.17e9","t":4.328,"v":96.6}]},"mark":{"type":"text","font":"Liberation Sans","fontSize":15.7,"align":"right","baseline":"middle","color":"#d9262e"},"encoding":{"text":{"field":"label"}}},
{"data":{"values":[{"label":"Time","t":4.296,"v":0}]},"mark":{"type":"text","font":"Liberation Sans","fontSize":16,"align":"right","baseline":"middle","color":"#111111"},"encoding":{"text":{"field":"label"}}},
{"data":{"values":[{"label":"%","t":-0.062,"v":50.2}]},"mark":{"type":"text","font":"Liberation Sans","fontSize":16,"angle":270,"align":"center","baseline":"middle","color":"#222222"},"encoding":{"text":{"field":"label"}}}
]},
{"encoding":{"x":{"field":"m","type":"quantitative","scale":{"domain":[100,2000],"range":[339.7,1466],"nice":false,"zero":false},"axis":{"title":null,"orient":"bottom","offset":-226.7,"zindex":1,"tickCount":38,"tickColor":"#444","domainColor":"#0b8a0b","domainWidth":2,"labelFont":"Liberation Sans","labelFontSize":18,"labelColor":"#111","labelPadding":3,"labelOverlap":false,"labelExpr":"datum.value%200==0 && datum.value<2000 ? datum.value+'' : ''","tickSize":{"condition":{"test":"datum.value%100==0","value":7},"value":4}}},"y":{"field":"p","type":"quantitative","scale":{"domain":[0,100],"range":[2333.3,1953],"nice":false,"zero":false},"axis":{"title":null,"orient":"left","offset":-339.7,"zindex":1,"tickCount":11,"tickColor":"#555","domainColor":"#666","labelFont":"Liberation Sans","labelFontSize":17,"labelColor":"#111","labelPadding":2,"labelOverlap":false,"labelExpr":"datum.value==0||datum.value==100 ? datum.value+'' : ''","tickSize":{"condition":{"test":"datum.value==0||datum.value==100","value":7},"value":3.5}}}},
"layer":[
{"data":{"name":"peakBase"},"mark":{"type":"area","color":"#0b8a0b","opacity":0.8},"encoding":{"y2":{"datum":0}}},
{"data":{"name":"peaks"},"mark":{"type":"rule","color":"#0b8a0b","strokeWidth":1,"opacity":0.9},"encoding":{"y2":{"datum":0}}},
{"data":{"name":"leaders"},"mark":{"type":"rule","color":"#444444","strokeWidth":0.8},"encoding":{"x2":{"field":"m2"},"y2":{"field":"p2"}}},
{"data":{"name":"peakLabels"},"mark":{"type":"text","font":"Liberation Sans","fontSize":16,"align":"center","baseline":"middle","color":"#111111"},"encoding":{"text":{"field":"label"}}},
{"data":{"values":[{"label":"2 272 (1.904) Cm (231:317)","m":32.2,"p":107.1}]},"mark":{"type":"text","font":"Liberation Sans","fontSize":17.2,"align":"left","baseline":"middle","color":"#1a8a1a"},"encoding":{"text":{"field":"label"}}},
{"data":{"values":[{"label":"2: MS2 ES-","m":2060.6,"p":107.1},{"label":"1.52e5","m":2068.6,"p":102.1}]},"mark":{"type":"text","font":"Liberation Sans","fontSize":17.2,"align":"right","baseline":"middle","color":"#1a8a1a"},"encoding":{"text":{"field":"label"}}},
{"data":{"values":[{"label":"m/z","m":2037,"p":-0.2}]},"mark":{"type":"text","font":"Liberation Sans","fontSize":17.5,"align":"center","baseline":"middle","color":"#111111"},"encoding":{"text":{"field":"label"}}},
{"data":{"values":[{"label":"%","m":79.7,"p":50}]},"mark":{"type":"text","font":"Liberation Sans","fontSize":17,"angle":270,"align":"center","baseline":"middle","color":"#222222"},"encoding":{"text":{"field":"label"}}},
{"data":{"values":[{"m":40.6,"p":50}]},"mark":{"type":"point","shape":"square","filled":true,"size":100,"opacity":1,"color":"#0b8a0b"}}
]}
]}
